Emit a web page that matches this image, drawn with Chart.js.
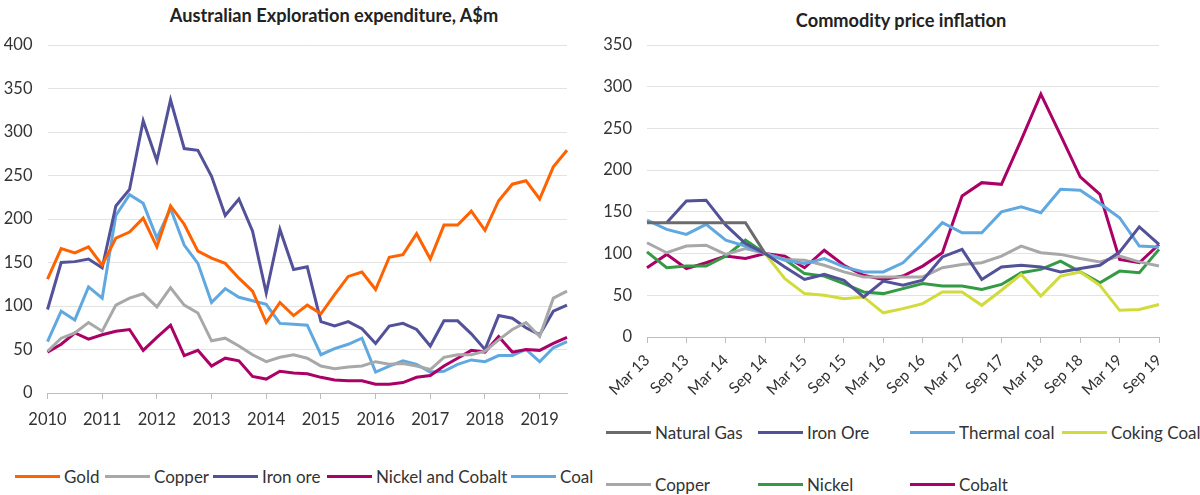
<!DOCTYPE html>
<html>
<head>
<meta charset="utf-8">
<script src="https://cdn.jsdelivr.net/npm/chart.js@4.4.1/dist/chart.umd.min.js"></script>
<style>
  body { margin: 0; background: #fff; font-family: Lato, "Open Sans", sans-serif; color: #222; }
  #wrap { position: relative; width: 1200px; height: 495px; overflow: hidden; }
  .title { position: absolute; font-weight: bold; font-size: 18.2px; white-space: nowrap; transform: translate(-50%, -50%); }
  .box { position: absolute; }
  .legend { position: absolute; font-size: 17px; color: #333; }
  .item { display: flex; align-items: center; white-space: nowrap; }
  #leftLegend .item { position: absolute; top: 0; }
  .swatch { width: 45px; height: 3px; margin-right: 4px; }
</style>
</head>
<body>
<div id="wrap">
  <div class="title" style="left:334px; top:15px;">Australian Exploration expenditure, A$m</div>
  <div class="title" style="left:901px; top:20px;">Commodity price inflation</div>
  <div class="box" style="left:0; top:0; width:600px; height:440px;"><canvas id="leftChart"></canvas></div>
  <div class="box" style="left:600px; top:0; width:600px; height:410px;"><canvas id="rightChart"></canvas></div>
  <div class="legend" id="leftLegend" style="left:0; top:466px; width:600px;"></div>
  <div class="legend" id="rightLegend" style="left:606px; top:422px; display:grid; grid-template-columns:152px 152px 152px 152px; row-gap:31px;"></div>
</div>
<script>
// Left chart: quarterly exploration spend, 2010 Q1 - 2019 Q3
var years = ['2010','2011','2012','2013','2014','2015','2016','2017','2018','2019']
var gold = [131,166,161,168,147,178,185,201,168,215,194,163,155,149,132,117,81,104,89,101,91,113,134,139,119,156,159,183,154,193,193,209,187,221,240,244,223,260,279]
var copper = [48,63,69,81,71,101,109,114,99,121,101,92,60,63,54,44,36,41,44,40,31,28,30,31,36,33,34,31,27,41,44,44,48,61,73,81,65,109,117]
var ironOre = [96,150,151,154,144,215,234,313,267,337,281,279,249,204,223,186,115,188,142,145,82,77,82,74,57,77,80,73,54,83,83,68,50,89,86,75,67,94,101]
var nickelCobalt = [47,56,69,62,67,71,73,49,64,78,43,49,31,40,37,19,16,25,23,22,18,15,14,14,10,10,12,18,20,31,40,49,47,65,47,50,49,57,64]
var coal = [59,94,84,122,109,204,228,218,178,212,170,149,104,120,110,106,102,80,79,78,44,51,56,63,24,31,37,33,24,25,33,38,36,43,43,50,36,52,59]

// Right chart: price index, Sep 14 = 100
var quarters = ['Mar 13','Jun 13','Sep 13','Dec 13','Mar 14','Jun 14','Sep 14','Dec 14','Mar 15','Jun 15','Sep 15','Dec 15','Mar 16','Jun 16','Sep 16','Dec 16','Mar 17','Jun 17','Sep 17','Dec 17','Mar 18','Jun 18','Sep 18','Dec 18','Mar 19','Jun 19','Sep 19']
var natGas = [137,137,137,137,137,137,100,null,null,null,null,null,null,null,null,null,null,null,null,null,null,null,null,null,null,null,null]
var ironOreIdx = [null,137,163,164,134,112,100,84,69,75,68,48,67,62,68,96,105,69,84,86,84,78,82,86,102,132,111]
var thermalCoal = [140,129,123,135,116,109,100,92,88,94,84,78,78,89,112,137,125,125,150,156,149,177,176,160,143,109,108]
var cokingCoal = [null,null,null,null,null,null,100,70,52,50,46,48,29,34,40,54,54,38,56,75,49,73,78,62,32,33,39]
var copperIdx = [113,101,109,110,99,106,100,93,92,86,78,72,72,72,72,83,87,89,97,109,101,99,94,90,97,90,85]
var nickel = [102,83,85,85,97,116,100,93,76,73,64,54,52,58,64,61,61,57,63,77,81,91,78,65,79,77,105]
var cobalt = [83,99,82,89,97,94,100,97,83,104,86,74,69,73,85,101,169,185,183,236,291,242,192,171,93,89,111]

var FONT = 'Lato'
var TXT = '#333'
var GRID = '#e3e3e3'
var AXIS = '#bdbdbd'

var quarterLabels = []
for (var y of years) {
    quarterLabels.push(y, '', '', '')
}
quarterLabels = quarterLabels.slice(0, gold.length)

function line(label, data, color) {
    return {
        label: label,
        data: data,
        borderColor: color,
        backgroundColor: color,
        borderWidth: 3,
        pointRadius: 0,
        tension: 0,
        fill: false,
        spanGaps: false
    }
}

function makeLegend(el, datasets, lefts) {
    datasets.forEach(function(ds, i) {
        var item = document.createElement('div')
        item.className = 'item'
        if (lefts) item.style.left = lefts[i] + 'px'
        item.innerHTML = '<span class="swatch" style="background:' + ds.borderColor + '"></span>' + ds.label
        el.appendChild(item)
    })
}

var leftSets = [
    line('Gold', gold, '#ff6200'),
    line('Copper', copper, '#a8a8a8'),
    line('Iron ore', ironOre, '#525199'),
    line('Nickel and Cobalt', nickelCobalt, '#ab0066'),
    line('Coal', coal, '#60a8e0')
]

new Chart(document.getElementById('leftChart'), {
    type: 'line',
    data: { labels: quarterLabels, datasets: leftSets },
    options: {
        responsive: true,
        maintainAspectRatio: false,
        animation: false,
        layout: { padding: { top: 45, right: 33, left: 0, bottom: 0 } },
        plugins: { legend: { display: false }, tooltip: { enabled: false } },
        scales: {
            x: {
                offset: false,
                afterFit: function(s) { s.height = 47 },
                border: { display: true, color: AXIS, width: 1 },
                grid: {
                    drawOnChartArea: false,
                    tickLength: 6,
                    color: function(c) { return c.index % 4 === 0 ? AXIS : 'rgba(0,0,0,0)' }
                },
                ticks: {
                    autoSkip: false,
                    maxRotation: 0,
                    padding: 11,
                    color: TXT,
                    font: { family: FONT, size: 16.5 }
                }
            },
            y: {
                min: 0,
                max: 400,
                afterFit: function(s) { s.width = 47.5 },
                border: { display: false },
                grid: { color: GRID, drawTicks: false },
                ticks: { stepSize: 50, padding: 15, color: TXT, font: { family: FONT, size: 16.5 } }
            }
        }
    }
})

var rightSets = [
    line('Natural Gas', natGas, '#6b6b6b'),
    line('Iron Ore', ironOreIdx, '#525199'),
    line('Thermal coal', thermalCoal, '#60a8e0'),
    line('Coking Coal', cokingCoal, '#d2db3c'),
    line('Copper', copperIdx, '#a8a8a8'),
    line('Nickel', nickel, '#349a45'),
    line('Cobalt', cobalt, '#ab0066')
]

new Chart(document.getElementById('rightChart'), {
    type: 'line',
    data: { labels: quarters, datasets: rightSets },
    options: {
        responsive: true,
        maintainAspectRatio: false,
        animation: false,
        layout: { padding: { top: 45, right: 41, left: 0, bottom: 0 } },
        plugins: { legend: { display: false }, tooltip: { enabled: false } },
        scales: {
            x: {
                offset: false,
                afterFit: function(s) { s.height = 410 - 337 },
                border: { display: true, color: AXIS, width: 1 },
                grid: {
                    drawOnChartArea: false,
                    tickLength: 6,
                    color: function(c) { return c.index % 2 === 0 ? AXIS : 'rgba(0,0,0,0)' }
                },
                ticks: {
                    autoSkip: false,
                    minRotation: 45,
                    maxRotation: 45,
                    padding: 8,
                    color: TXT,
                    font: { family: FONT, size: 15.5 },
                    callback: function(v, i) { return i % 2 === 0 ? this.getLabelForValue(v) : '' }
                }
            },
            y: {
                min: 0,
                max: 350,
                afterFit: function(s) { s.width = 47 },
                border: { display: false },
                grid: { color: GRID, drawTicks: false },
                ticks: { stepSize: 50, padding: 15, color: TXT, font: { family: FONT, size: 16.5 } }
            }
        }
    }
})

makeLegend(document.getElementById('leftLegend'), leftSets, [15, 105, 213, 327, 511])
makeLegend(document.getElementById('rightLegend'), rightSets)
</script>
</body>
</html>
